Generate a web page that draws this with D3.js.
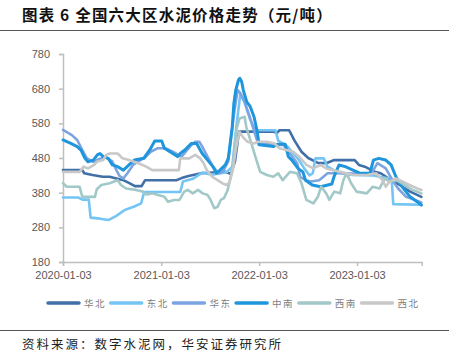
<!DOCTYPE html>
<html>
<head>
<meta charset="utf-8">
<script src="https://cdn.jsdelivr.net/npm/d3@7/dist/d3.min.js"></script>
<style>
  body { margin: 0; background: #fff; }
  svg { display: block; }
</style>
</head>
<body>
<script>
// tick labels
var yTicks = [180, 280, 380, 480, 580, 680, 780];
var xTicks = ["2020-01-03", "2021-01-03", "2022-01-03", "2023-01-03"];

var names = ["华北", "东北", "华东", "中南", "西南", "西北"];
var colors = ["#4170a8", "#74c4f4", "#7ca4e0", "#1f96dc", "#a2c8c8", "#c8c8c8"];

// series
var huabei = [["2020-01-03",445],["2020-03-15",445],["2020-03-22",436],["2020-04-22",431],["2020-05-30",426],
  ["2020-06-25",426],["2020-07-20",421],["2020-08-15",416],["2020-09-08",407],["2020-09-27",399],["2020-10-22",399],
  ["2020-11-04",416],["2021-03-01",416],["2021-03-20",422],["2021-04-15",428],["2021-06-01",436],["2021-09-01",440],
  ["2021-09-20",434],["2021-10-05",470],["2021-10-20",556],["2022-02-25",556],["2022-03-10",552],["2022-03-20",560],
  ["2022-04-25",560],["2022-05-15",530],["2022-06-10",498],["2022-07-05",480],["2022-08-10",466],["2022-09-10",465],
  ["2022-10-10",474],["2022-12-25",474],["2023-01-10",460],["2023-02-01",455],["2023-03-10",440],["2023-04-01",436],
  ["2023-05-10",416],["2023-06-05",405],["2023-07-20",383],["2023-08-31",368]];

var dongbei = [["2020-01-03",366],["2020-03-01",366],["2020-03-15",360],["2020-04-08",360],["2020-04-15",308],
  ["2020-05-20",305],["2020-06-20",301],["2020-07-20",313],["2020-08-20",330],["2020-09-25",340],["2020-10-20",349],
  ["2020-11-01",382],["2021-03-15",382],["2021-03-25",412],["2021-05-01",420],["2021-06-05",438],["2021-07-10",432],
  ["2021-08-20",437],["2021-09-05",440],["2021-09-25",455],["2021-10-10",570],["2021-10-25",665],["2021-11-10",640],
  ["2021-12-01",590],["2021-12-20",560],["2022-03-05",560],["2022-03-15",530],["2022-04-01",522],["2022-04-20",512],
  ["2022-05-10",493],["2022-06-01",474],["2022-06-20",450],["2022-07-10",430],["2022-07-22",436],["2022-08-01",479],
  ["2022-09-01",479],["2022-09-15",455],["2022-10-20",440],["2022-12-01",432],["2023-03-01",430],["2023-04-01",425],
  ["2023-05-12",420],["2023-05-18",347],["2023-08-31",345]];

var huadong = [["2020-01-03",561],["2020-02-05",546],["2020-02-25",532],["2020-03-15",503],["2020-04-01",479],
  ["2020-04-25",469],["2020-05-20",478],["2020-06-10",482],["2020-07-05",470],["2020-07-20",445],["2020-08-01",428],
  ["2020-08-15",421],["2020-08-30",436],["2020-09-20",460],["2020-10-10",470],["2020-11-01",480],["2020-11-25",498],
  ["2020-12-20",508],["2021-01-20",508],["2021-02-15",498],["2021-03-20",484],["2021-04-10",503],["2021-04-25",517],
  ["2021-05-10",527],["2021-05-25",527],["2021-06-05",513],["2021-06-28",479],["2021-07-15",455],["2021-08-05",436],
  ["2021-08-20",440],["2021-09-10",470],["2021-09-30",600],["2021-10-15",676],["2021-10-25",667],["2021-11-10",642],
  ["2021-12-01",594],["2021-12-18",551],["2021-12-30",522],["2022-03-01",520],["2022-04-05",517],["2022-04-28",493],
  ["2022-05-25",465],["2022-06-05",426],["2022-06-25",416],["2022-07-15",412],["2022-08-15",416],["2022-09-15",436],
  ["2022-10-25",436],["2023-01-01",435],["2023-02-25",435],["2023-03-20",465],["2023-04-20",450],["2023-05-15",416],
  ["2023-06-05",392],["2023-07-05",368],["2023-08-31",352]];

var zhongnan = [["2020-01-03",532],["2020-02-01",522],["2020-02-25",513],["2020-03-10",503],["2020-03-25",479],
  ["2020-04-05",469],["2020-04-25",474],["2020-05-10",489],["2020-05-20",493],["2020-06-01",484],["2020-06-20",479],
  ["2020-07-05",460],["2020-07-25",455],["2020-08-15",445],["2020-09-05",460],["2020-09-25",474],["2020-10-30",479],
  ["2020-11-25",508],["2020-12-10",529],["2021-01-05",529],["2021-01-15",508],["2021-02-15",493],["2021-03-05",484],
  ["2021-03-15",493],["2021-04-01",503],["2021-04-25",522],["2021-05-15",522],["2021-06-05",493],["2021-06-25",474],
  ["2021-07-15",455],["2021-07-28",436],["2021-08-10",445],["2021-08-30",460],["2021-09-10",479],["2021-09-25",570],
  ["2021-10-01",638],["2021-10-08",676],["2021-10-18",705],["2021-10-23",710],["2021-10-30",700],["2021-11-05",676],
  ["2021-11-18",642],["2021-12-01",628],["2021-12-15",599],["2021-12-27",556],["2022-01-03",518],["2022-02-25",513],
  ["2022-03-15",520],["2022-04-10",520],["2022-04-22",484],["2022-05-05",474],["2022-05-28",450],["2022-06-15",440],
  ["2022-06-25",416],["2022-07-20",402],["2022-08-20",397],["2022-10-01",405],["2022-10-10",428],["2022-10-28",460],
  ["2022-11-20",455],["2023-01-15",436],["2023-02-20",436],["2023-03-05",474],["2023-03-25",479],["2023-04-20",474],
  ["2023-05-10",460],["2023-05-28",426],["2023-06-20",397],["2023-07-20",368],["2023-08-15",354],["2023-08-31",344]];

var xinan = [["2020-01-03",407],["2020-01-17",397],["2020-03-05",397],["2020-03-15",368],["2020-05-01",368],
  ["2020-05-08",390],["2020-05-25",402],["2020-06-25",407],["2020-07-12",412],["2020-07-25",416],["2020-08-06",402],
  ["2020-08-25",392],["2020-10-01",388],["2020-10-28",383],["2020-11-08",375],["2020-11-30",378],["2021-01-15",368],
  ["2021-01-28",354],["2021-02-20",359],["2021-03-12",359],["2021-03-30",383],["2021-04-12",388],["2021-05-01",378],
  ["2021-05-20",388],["2021-06-07",378],["2021-06-25",373],["2021-07-06",359],["2021-07-20",335],["2021-08-01",339],
  ["2021-08-13",359],["2021-08-25",364],["2021-09-08",388],["2021-09-27",455],["2021-10-10",561],["2021-10-22",594],
  ["2021-11-10",599],["2021-11-16",570],["2021-12-05",522],["2021-12-24",474],["2022-01-07",440],["2022-02-01",431],
  ["2022-02-25",426],["2022-03-15",436],["2022-04-01",416],["2022-04-28",440],["2022-05-24",436],["2022-06-10",407],
  ["2022-06-28",359],["2022-07-24",349],["2022-08-10",368],["2022-08-22",397],["2022-09-10",378],["2022-09-22",359],
  ["2022-10-10",383],["2022-11-01",378],["2022-11-13",416],["2022-11-25",436],["2022-12-12",407],["2023-01-01",383],
  ["2023-02-08",378],["2023-03-02",397],["2023-03-28",392],["2023-04-16",421],["2023-05-04",412],["2023-05-29",416],
  ["2023-06-20",407],["2023-07-28",388],["2023-08-31",378]];

var xibei = [["2020-01-03",440],["2020-03-05",440],["2020-03-20",455],["2020-04-05",450],["2020-04-28",460],
  ["2020-05-08",469],["2020-06-01",474],["2020-06-12",489],["2020-06-25",493],["2020-07-25",493],["2020-08-12",479],
  ["2020-09-05",474],["2020-10-10",465],["2020-11-08",455],["2020-12-01",445],["2021-03-10",445],["2021-03-15",479],
  ["2021-04-18",479],["2021-05-10",489],["2021-05-28",479],["2021-06-10",465],["2021-06-22",445],["2021-07-12",426],
  ["2021-08-01",416],["2021-08-20",407],["2021-09-03",402],["2021-09-15",410],["2021-09-27",445],["2021-10-10",513],
  ["2021-10-22",556],["2021-11-03",541],["2021-11-20",527],["2021-12-15",522],["2021-12-30",527],["2022-02-01",527],
  ["2022-03-01",522],["2022-03-20",508],["2022-04-15",503],["2022-05-10",498],["2022-06-01",484],["2022-06-28",460],
  ["2022-07-24",450],["2022-08-20",460],["2022-09-10",450],["2022-11-01",440],["2022-12-20",431],["2023-02-08",431],
  ["2023-03-15",436],["2023-04-08",416],["2023-04-20",397],["2023-05-04",412],["2023-05-29",421],["2023-07-05",407],
  ["2023-08-15",392],["2023-08-31",388]];

var allSeries = [huabei, dongbei, huadong, zhongnan, xinan, xibei];

var parseDate = d3.timeParse("%Y-%m-%d");

var screen = {width: 464, height: 363};
var plot = {left: 63, right: 421.7, top: 54, bottom: 262};

var svg = d3.select("body")
  .append("svg")
  .attr("width", screen.width)
  .attr("height", screen.height);

// title and rules
svg.append("text")
  .attr("x", 22).attr("y", 21)
  .attr("font-family", "'Noto Sans CJK SC', sans-serif")
  .attr("font-size", 15.5).attr("font-weight", "bold")
  .attr("letter-spacing", 1.2)
  .attr("fill", "#111")
  .text("图表 6 全国六大区水泥价格走势（元/吨）");

svg.append("line")
  .attr("x1", 0).attr("x2", 449).attr("y1", 30.5).attr("y2", 30.5)
  .attr("stroke", "#555").attr("stroke-width", 1);

svg.append("line")
  .attr("x1", 0).attr("x2", 449).attr("y1", 330.5).attr("y2", 330.5)
  .attr("stroke", "#555").attr("stroke-width", 1);

svg.append("text")
  .attr("x", 22).attr("y", 349)
  .attr("font-family", "'Noto Sans CJK SC', sans-serif")
  .attr("font-size", 12.5)
  .attr("letter-spacing", 2)
  .attr("fill", "#222")
  .text("资料来源：数字水泥网，华安证券研究所");

var xScale = d3.scaleTime()
  .domain([parseDate("2020-01-03"), parseDate("2023-09-01")])
  .range([plot.left, plot.right]);

var yScale = d3.scaleLinear()
  .domain([180, 780])
  .range([plot.bottom, plot.top]);

// axes
var yAxis = d3.axisLeft(yScale).tickValues(yTicks).tickSize(4).tickPadding(9);
var xAxis = d3.axisBottom(xScale)
  .tickValues(xTicks.map(parseDate))
  .tickFormat(d3.timeFormat("%Y-%m-%d"))
  .tickSize(4).tickPadding(5);

var gy = svg.append("g")
  .attr("transform", "translate(" + plot.left + ",0)")
  .call(yAxis);
var gx = svg.append("g")
  .attr("transform", "translate(0," + plot.bottom + ")")
  .call(xAxis);

[gx, gy].forEach(function (g) {
  g.select(".domain").attr("stroke", "#bfbfbf").attr("stroke-width", 1.5);
  g.selectAll(".tick line").attr("stroke", "#bfbfbf").attr("stroke-width", 1.5);
  g.selectAll(".tick text")
    .attr("fill", "#595959")
    .attr("font-family", "'Liberation Sans', Arial, sans-serif")
    .attr("font-size", 11);
});

// lines
var lineGen = d3.line()
  .x(function (d) { return xScale(parseDate(d[0])); })
  .y(function (d) { return yScale(d[1]); });

allSeries.forEach(function (s, i) {
  svg.append("path")
    .datum(s)
    .attr("fill", "none")
    .attr("stroke", colors[i])
    .attr("stroke-width", i == 3 ? 3 : 2.6)
    .attr("stroke-linejoin", "round")
    .attr("stroke-linecap", "round")
    .attr("d", lineGen);
});

// legend
var legend = svg.append("g").attr("transform", "translate(47,303)");
names.forEach(function (n, i) {
  var item = legend.append("g").attr("transform", "translate(" + (i * 62.7) + ",0)");
  item.append("line")
    .attr("x1", 1).attr("x2", 32).attr("y1", 0).attr("y2", 0)
    .attr("stroke", colors[i]).attr("stroke-width", 3.5)
    .attr("stroke-linecap", "round");
  item.append("text")
    .attr("x", 37).attr("y", 3.5)
    .attr("font-family", "'Noto Sans CJK SC', sans-serif")
    .attr("font-size", 9.5)
    .attr("letter-spacing", 1.5)
    .attr("fill", "#7f7f7f")
    .text(n);
});
</script>
</body>
</html>
